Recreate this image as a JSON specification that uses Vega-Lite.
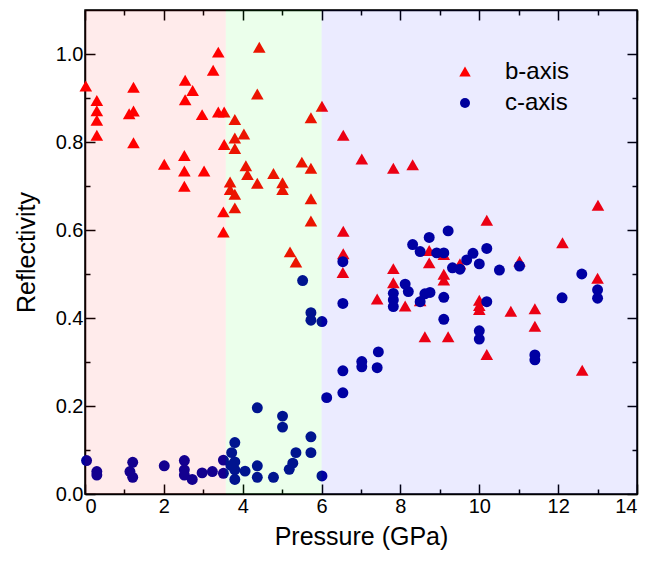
{
  "$schema": "https://vega.github.io/schema/vega-lite/v6.json",
  "width": 552,
  "height": 484,
  "autosize": {"type": "none"},
  "padding": {"left": 85, "top": 10, "right": 25, "bottom": 67},
  "background": "white",
  "config": {
    "font": "Liberation Sans",
    "view": {"stroke": "black", "strokeWidth": 1.5},
    "axis": {"domainColor": "black", "domainWidth": 1.5, "tickColor": "black", "tickWidth": 1.5, "grid": false, "labelColor": "black", "titleColor": "black", "labelFontSize": 20, "titleFontSize": 25, "titleFontWeight": "normal", "labelFont": "Liberation Sans", "titleFont": "Liberation Sans"}
  },
  "datasets": {
    "pts": [
      {"p": 0.02, "r": 0.926, "s": "b-axis"},
      {"p": 0.30, "r": 0.893, "s": "b-axis"},
      {"p": 0.30, "r": 0.870, "s": "b-axis"},
      {"p": 0.30, "r": 0.848, "s": "b-axis"},
      {"p": 0.30, "r": 0.814, "s": "b-axis"},
      {"p": 1.23, "r": 0.923, "s": "b-axis"},
      {"p": 1.12, "r": 0.863, "s": "b-axis"},
      {"p": 1.23, "r": 0.869, "s": "b-axis"},
      {"p": 1.23, "r": 0.797, "s": "b-axis"},
      {"p": 2.54, "r": 0.939, "s": "b-axis"},
      {"p": 2.73, "r": 0.916, "s": "b-axis"},
      {"p": 2.54, "r": 0.895, "s": "b-axis"},
      {"p": 2.97, "r": 0.861, "s": "b-axis"},
      {"p": 3.38, "r": 1.003, "s": "b-axis"},
      {"p": 3.25, "r": 0.962, "s": "b-axis"},
      {"p": 3.38, "r": 0.867, "s": "b-axis"},
      {"p": 3.53, "r": 0.867, "s": "b-axis"},
      {"p": 2.01, "r": 0.748, "s": "b-axis"},
      {"p": 2.52, "r": 0.768, "s": "b-axis"},
      {"p": 2.52, "r": 0.733, "s": "b-axis"},
      {"p": 3.02, "r": 0.733, "s": "b-axis"},
      {"p": 2.52, "r": 0.698, "s": "b-axis"},
      {"p": 3.80, "r": 0.850, "s": "b-axis"},
      {"p": 4.03, "r": 0.817, "s": "b-axis"},
      {"p": 3.80, "r": 0.808, "s": "b-axis"},
      {"p": 3.53, "r": 0.793, "s": "b-axis"},
      {"p": 3.80, "r": 0.784, "s": "b-axis"},
      {"p": 4.08, "r": 0.745, "s": "b-axis"},
      {"p": 4.12, "r": 0.725, "s": "b-axis"},
      {"p": 3.68, "r": 0.708, "s": "b-axis"},
      {"p": 3.68, "r": 0.691, "s": "b-axis"},
      {"p": 3.80, "r": 0.680, "s": "b-axis"},
      {"p": 3.80, "r": 0.649, "s": "b-axis"},
      {"p": 3.51, "r": 0.640, "s": "b-axis"},
      {"p": 3.51, "r": 0.594, "s": "b-axis"},
      {"p": 4.42, "r": 1.014, "s": "b-axis"},
      {"p": 4.37, "r": 0.908, "s": "b-axis"},
      {"p": 4.37, "r": 0.705, "s": "b-axis"},
      {"p": 4.78, "r": 0.727, "s": "b-axis"},
      {"p": 5.01, "r": 0.706, "s": "b-axis"},
      {"p": 5.01, "r": 0.691, "s": "b-axis"},
      {"p": 5.50, "r": 0.753, "s": "b-axis"},
      {"p": 5.73, "r": 0.739, "s": "b-axis"},
      {"p": 5.73, "r": 0.854, "s": "b-axis"},
      {"p": 6.01, "r": 0.880, "s": "b-axis"},
      {"p": 5.73, "r": 0.670, "s": "b-axis"},
      {"p": 5.73, "r": 0.619, "s": "b-axis"},
      {"p": 6.55, "r": 0.814, "s": "b-axis"},
      {"p": 6.55, "r": 0.596, "s": "b-axis"},
      {"p": 6.55, "r": 0.545, "s": "b-axis"},
      {"p": 6.54, "r": 0.502, "s": "b-axis"},
      {"p": 5.20, "r": 0.549, "s": "b-axis"},
      {"p": 5.35, "r": 0.526, "s": "b-axis"},
      {"p": 7.02, "r": 0.760, "s": "b-axis"},
      {"p": 7.82, "r": 0.739, "s": "b-axis"},
      {"p": 8.31, "r": 0.747, "s": "b-axis"},
      {"p": 7.82, "r": 0.511, "s": "b-axis"},
      {"p": 7.82, "r": 0.479, "s": "b-axis"},
      {"p": 7.41, "r": 0.442, "s": "b-axis"},
      {"p": 8.12, "r": 0.426, "s": "b-axis"},
      {"p": 8.50, "r": 0.438, "s": "b-axis"},
      {"p": 8.62, "r": 0.356, "s": "b-axis"},
      {"p": 9.21, "r": 0.356, "s": "b-axis"},
      {"p": 8.73, "r": 0.552, "s": "b-axis"},
      {"p": 9.10, "r": 0.543, "s": "b-axis"},
      {"p": 8.73, "r": 0.524, "s": "b-axis"},
      {"p": 9.10, "r": 0.498, "s": "b-axis"},
      {"p": 9.10, "r": 0.485, "s": "b-axis"},
      {"p": 9.51, "r": 0.522, "s": "b-axis"},
      {"p": 10.19, "r": 0.621, "s": "b-axis"},
      {"p": 10.0, "r": 0.439, "s": "b-axis"},
      {"p": 10.0, "r": 0.427, "s": "b-axis"},
      {"p": 10.0, "r": 0.418, "s": "b-axis"},
      {"p": 10.19, "r": 0.316, "s": "b-axis"},
      {"p": 13.01, "r": 0.655, "s": "b-axis"},
      {"p": 12.11, "r": 0.570, "s": "b-axis"},
      {"p": 11.02, "r": 0.528, "s": "b-axis"},
      {"p": 13.0, "r": 0.489, "s": "b-axis"},
      {"p": 10.80, "r": 0.414, "s": "b-axis"},
      {"p": 11.41, "r": 0.420, "s": "b-axis"},
      {"p": 11.41, "r": 0.380, "s": "b-axis"},
      {"p": 12.61, "r": 0.280, "s": "b-axis"},
      {"p": 0.04, "r": 0.076, "s": "c-axis"},
      {"p": 0.30, "r": 0.051, "s": "c-axis"},
      {"p": 0.30, "r": 0.043, "s": "c-axis"},
      {"p": 1.21, "r": 0.072, "s": "c-axis"},
      {"p": 1.14, "r": 0.051, "s": "c-axis"},
      {"p": 1.21, "r": 0.038, "s": "c-axis"},
      {"p": 2.01, "r": 0.064, "s": "c-axis"},
      {"p": 2.52, "r": 0.076, "s": "c-axis"},
      {"p": 2.52, "r": 0.055, "s": "c-axis"},
      {"p": 2.52, "r": 0.043, "s": "c-axis"},
      {"p": 2.72, "r": 0.033, "s": "c-axis"},
      {"p": 2.97, "r": 0.048, "s": "c-axis"},
      {"p": 3.23, "r": 0.051, "s": "c-axis"},
      {"p": 3.51, "r": 0.077, "s": "c-axis"},
      {"p": 3.51, "r": 0.047, "s": "c-axis"},
      {"p": 3.80, "r": 0.117, "s": "c-axis"},
      {"p": 3.72, "r": 0.094, "s": "c-axis"},
      {"p": 3.80, "r": 0.073, "s": "c-axis"},
      {"p": 3.80, "r": 0.055, "s": "c-axis"},
      {"p": 3.80, "r": 0.033, "s": "c-axis"},
      {"p": 3.70, "r": 0.065, "s": "c-axis"},
      {"p": 4.06, "r": 0.052, "s": "c-axis"},
      {"p": 4.37, "r": 0.196, "s": "c-axis"},
      {"p": 4.37, "r": 0.064, "s": "c-axis"},
      {"p": 4.37, "r": 0.038, "s": "c-axis"},
      {"p": 4.78, "r": 0.038, "s": "c-axis"},
      {"p": 5.01, "r": 0.177, "s": "c-axis"},
      {"p": 5.01, "r": 0.152, "s": "c-axis"},
      {"p": 5.18, "r": 0.056, "s": "c-axis"},
      {"p": 5.27, "r": 0.070, "s": "c-axis"},
      {"p": 5.35, "r": 0.094, "s": "c-axis"},
      {"p": 5.73, "r": 0.130, "s": "c-axis"},
      {"p": 5.73, "r": 0.094, "s": "c-axis"},
      {"p": 6.01, "r": 0.041, "s": "c-axis"},
      {"p": 5.52, "r": 0.485, "s": "c-axis"},
      {"p": 5.73, "r": 0.412, "s": "c-axis"},
      {"p": 5.73, "r": 0.395, "s": "c-axis"},
      {"p": 6.01, "r": 0.392, "s": "c-axis"},
      {"p": 6.54, "r": 0.528, "s": "c-axis"},
      {"p": 6.54, "r": 0.433, "s": "c-axis"},
      {"p": 6.54, "r": 0.280, "s": "c-axis"},
      {"p": 6.54, "r": 0.230, "s": "c-axis"},
      {"p": 6.13, "r": 0.219, "s": "c-axis"},
      {"p": 7.44, "r": 0.323, "s": "c-axis"},
      {"p": 7.02, "r": 0.301, "s": "c-axis"},
      {"p": 7.02, "r": 0.289, "s": "c-axis"},
      {"p": 7.41, "r": 0.287, "s": "c-axis"},
      {"p": 9.21, "r": 0.598, "s": "c-axis"},
      {"p": 8.73, "r": 0.583, "s": "c-axis"},
      {"p": 8.31, "r": 0.567, "s": "c-axis"},
      {"p": 8.50, "r": 0.551, "s": "c-axis"},
      {"p": 8.92, "r": 0.548, "s": "c-axis"},
      {"p": 9.10, "r": 0.548, "s": "c-axis"},
      {"p": 9.84, "r": 0.547, "s": "c-axis"},
      {"p": 9.68, "r": 0.532, "s": "c-axis"},
      {"p": 10.0, "r": 0.523, "s": "c-axis"},
      {"p": 9.51, "r": 0.511, "s": "c-axis"},
      {"p": 9.32, "r": 0.514, "s": "c-axis"},
      {"p": 10.19, "r": 0.558, "s": "c-axis"},
      {"p": 8.12, "r": 0.477, "s": "c-axis"},
      {"p": 8.20, "r": 0.460, "s": "c-axis"},
      {"p": 7.82, "r": 0.456, "s": "c-axis"},
      {"p": 7.82, "r": 0.441, "s": "c-axis"},
      {"p": 7.82, "r": 0.426, "s": "c-axis"},
      {"p": 8.62, "r": 0.455, "s": "c-axis"},
      {"p": 8.75, "r": 0.458, "s": "c-axis"},
      {"p": 8.50, "r": 0.437, "s": "c-axis"},
      {"p": 9.10, "r": 0.447, "s": "c-axis"},
      {"p": 9.10, "r": 0.397, "s": "c-axis"},
      {"p": 10.19, "r": 0.437, "s": "c-axis"},
      {"p": 10.0, "r": 0.371, "s": "c-axis"},
      {"p": 10.0, "r": 0.352, "s": "c-axis"},
      {"p": 10.51, "r": 0.509, "s": "c-axis"},
      {"p": 11.02, "r": 0.518, "s": "c-axis"},
      {"p": 12.6, "r": 0.500, "s": "c-axis"},
      {"p": 12.1, "r": 0.446, "s": "c-axis"},
      {"p": 13.0, "r": 0.464, "s": "c-axis"},
      {"p": 13.0, "r": 0.445, "s": "c-axis"},
      {"p": 11.41, "r": 0.316, "s": "c-axis"},
      {"p": 11.41, "r": 0.305, "s": "c-axis"}
    ],
    "bands": [
      {"start": 0, "end": 3.57, "phase": "I"},
      {"start": 3.57, "end": 6, "phase": "II"},
      {"start": 6, "end": 14, "phase": "III"}
    ]
  },
  "layer": [
    {
      "data": {"name": "pts"},
      "mark": {"type": "point", "filled": true, "opacity": 1, "strokeWidth": 0, "size": 120},
      "encoding": {
        "x": {"field": "p", "type": "quantitative", "scale": {"domain": [0, 14], "nice": false, "zero": false},
          "axis": {"orient": "bottom", "title": "Pressure (GPa)", "values": [0,2,4,6,8,10,12,14],
            "tickSize": -10, "labelPadding": 12, "titlePadding": 8}},
        "y": {"field": "r", "type": "quantitative", "scale": {"domain": [0, 1.1], "nice": false, "zero": false},
          "axis": {"orient": "left", "title": "Reflectivity", "values": [0,0.2,0.4,0.6,0.8,1.0],
            "format": ".1f", "tickSize": -10, "labelPadding": 12, "titlePadding": 16}},
        "color": {"field": "s", "type": "nominal", "scale": {"domain": ["b-axis", "c-axis"], "range": ["#FF0000", "#00009C"]},
          "legend": {"title": null, "orient": "none", "legendX": 368, "legendY": 50, "labelFontSize": 24, "labelColor": "black", "labelOffset": 28, "rowPadding": 7, "padding": 0, "labelFont": "Liberation Sans"}},
        "shape": {"field": "s", "type": "nominal", "scale": {"domain": ["b-axis", "c-axis"], "range": ["M-1.15,0.9L0,-1.1L1.15,0.9Z", "circle"]},
          "legend": {"title": null, "orient": "none", "legendX": 368, "legendY": 50, "labelFontSize": 24, "labelColor": "black", "labelOffset": 28, "rowPadding": 7, "padding": 0, "labelFont": "Liberation Sans"}}
      }
    },
    {
      "data": {"name": "bands"},
      "mark": {"type": "rect", "fillOpacity": 0.08, "strokeWidth": 0},
      "encoding": {
        "x": {"field": "start", "type": "quantitative", "scale": {"domain": [0, 14], "nice": false, "zero": false},
          "axis": {"orient": "top", "title": null, "labels": false, "values": [0,2,4,6,8,10,12,14], "tickSize": -10}},
        "x2": {"field": "end"},
        "y": {"datum": 0, "type": "quantitative", "scale": {"domain": [0, 1.1], "nice": false, "zero": false},
          "axis": {"orient": "right", "title": null, "labels": false, "values": [0,0.2,0.4,0.6,0.8,1.0], "tickSize": -10}},
        "y2": {"datum": 1.1},
        "fill": {"field": "phase", "type": "nominal", "scale": {"domain": ["I", "II", "III"], "range": ["#FF0000", "#00FF00", "#0000FF"]}, "legend": null}
      }
    },
    {
      "data": {"name": "bands"},
      "mark": {"type": "rect", "opacity": 0},
      "encoding": {
        "x": {"field": "start", "type": "quantitative", "scale": {"domain": [0, 14], "nice": false, "zero": false},
          "axis": {"orient": "bottom", "title": null, "labels": false, "domain": false, "values": [1,3,5,7,9,11,13], "tickSize": -5}},
        "x2": {"field": "end"},
        "y": {"datum": 0, "type": "quantitative", "scale": {"domain": [0, 1.1], "nice": false, "zero": false},
          "axis": {"orient": "left", "title": null, "labels": false, "domain": false, "values": [0.1,0.3,0.5,0.7,0.9], "tickSize": -5}},
        "y2": {"datum": 1.1}
      }
    },
    {
      "data": {"name": "bands"},
      "mark": {"type": "rect", "opacity": 0},
      "encoding": {
        "x": {"field": "start", "type": "quantitative", "scale": {"domain": [0, 14], "nice": false, "zero": false},
          "axis": {"orient": "top", "title": null, "labels": false, "domain": false, "values": [1,3,5,7,9,11,13], "tickSize": -5}},
        "x2": {"field": "end"},
        "y": {"datum": 0, "type": "quantitative", "scale": {"domain": [0, 1.1], "nice": false, "zero": false},
          "axis": {"orient": "right", "title": null, "labels": false, "domain": false, "values": [0.1,0.3,0.5,0.7,0.9], "tickSize": -5}},
        "y2": {"datum": 1.1}
      }
    }
  ],
  "resolve": {"axis": {"x": "independent", "y": "independent"}}
}
